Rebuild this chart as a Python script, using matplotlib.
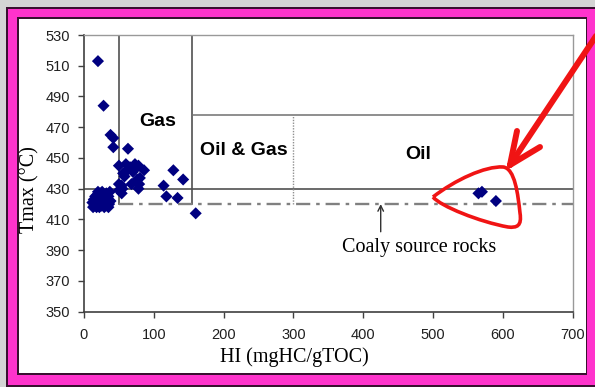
import numpy as np
import matplotlib
matplotlib.use("Agg")
import matplotlib.pyplot as plt
from matplotlib.patches import Rectangle, PathPatch
from matplotlib.path import Path

# HI (mgHC/gTOC) and Tmax (deg C) of the samples
hi = [12, 14, 15, 16, 17, 18, 18, 19, 20, 21, 22, 22, 23, 24, 25, 25, 26, 27, 28, 28,
      29, 30, 31, 32, 33, 34, 35, 36, 37, 38, 20, 26, 16, 30, 13, 35,
      20, 28, 38, 42, 42, 63, 50, 66, 73, 78, 86, 62, 56, 80, 68, 50, 79, 78, 54, 50,
      54, 58, 70, 76, 60, 72, 55,
      114, 128, 142, 118, 134, 160,
      565, 570, 590]
tmax = [421, 423, 419, 425, 421, 418, 423, 426, 420, 422, 424, 418, 427, 421, 419, 425, 423, 420, 426, 422,
        418, 424, 421, 427, 419, 423, 425, 420, 428, 422, 428, 428, 420, 419, 418, 418,
        513, 484, 465, 463, 457, 456, 445, 444, 446, 445, 442, 442, 440, 437, 433, 433, 433, 430, 427, 429,
        432, 438, 441, 436, 446, 443, 430,
        432, 442, 436, 425, 424, 414,
        427, 428, 422]

xticks = [0, 100, 200, 300, 400, 500, 600, 700]
yticks = [350, 370, 390, 410, 430, 450, 470, 490, 510, 530]

# zone boundaries
gas_hi = (50, 155)
gas_top = 530
oil_top = 478
oil_gas_split = 300
mature_t = 430
coaly_t = 420

W, H = 595, 387
sans = "Liberation Sans"
serif = "Liberation Serif"

fig = plt.figure(figsize=(W / 100, H / 100), dpi=100, facecolor="#d4d4d4")


def px_rect(x0, y0, x1, y1, color):
    fig.patches.append(Rectangle((x0 / W, 1 - y1 / H), (x1 - x0) / W, (y1 - y0) / H,
                                 transform=fig.transFigure, facecolor=color,
                                 edgecolor="none", zorder=-5))


def px(x, y):
    return (x / W, 1 - y / H)


# pink frame
px_rect(6, 7, 595, 387, "#3a1030")
px_rect(8, 9, 595, 385, "#ff33cc")
px_rect(17, 17, 587, 375, "#3a1030")
px_rect(19, 19, 586, 373, "white")

ax = fig.add_axes([84 / W, 1 - 311.7 / H, (572.7 - 84) / W, (311.7 - 35) / H])
ax.set_zorder(2)
ax.set_facecolor("white")
ax.set_xlim(0, 700)
ax.set_ylim(350, 530)
ax.set_xticks(xticks)
ax.set_yticks(yticks)
ax.tick_params(direction="out", length=4, width=1, color="#404040", labelsize=10.5,
               labelcolor="#202020")
ax.tick_params(axis="y", pad=6)
ax.tick_params(axis="x", pad=8)
for lab in ax.get_xticklabels() + ax.get_yticklabels():
    lab.set_fontfamily(sans)
for s in ["left", "bottom"]:
    ax.spines[s].set_color("#404040")
    ax.spines[s].set_linewidth(1.2)
for s in ["top", "right"]:
    ax.spines[s].set_color("#999999")
    ax.spines[s].set_linewidth(1)

line_c = "#505050"
# gas box
ax.plot([gas_hi[0], gas_hi[0], gas_hi[1], gas_hi[1]], [coaly_t, gas_top, gas_top, coaly_t],
        color=line_c, lw=1.2, zorder=2)
# maturity line and oil window top
ax.plot([0, 700], [mature_t, mature_t], color=line_c, lw=1.2, zorder=2)
ax.plot([gas_hi[1], 700], [oil_top, oil_top], color="#707070", lw=1.1, zorder=2)
ax.plot([oil_gas_split, oil_gas_split], [coaly_t, oil_top], color="#909090", lw=1,
        ls=(0, (1, 1)), zorder=2)
# coaly source rock threshold
ax.plot([gas_hi[0], 700], [coaly_t, coaly_t], color="#808080", lw=1.7,
        ls=(0, (6, 2.5, 1.5, 2.5)), zorder=2)

ax.scatter(hi, tmax, marker="D", s=38, color="#000080", edgecolors="none", zorder=4)

ax.text(105, 474, "Gas", fontfamily=sans, fontweight="bold", fontsize=14,
        ha="center", va="center")
ax.text(229, 455, "Oil & Gas", fontfamily=sans, fontweight="bold", fontsize=14,
        ha="center", va="center")
ax.text(479, 452, "Oil", fontfamily=sans, fontweight="bold", fontsize=14,
        ha="center", va="center")

ax.annotate("", xy=(425, coaly_t), xytext=(425, 402),
            arrowprops=dict(arrowstyle="->", color="#303030", lw=1, shrinkA=0, shrinkB=0))
ax.text(480, 392, "Coaly source rocks", fontfamily=serif, fontsize=14.5,
        ha="center", va="center")

fig.text(294 / W, 1 - 357 / H, "HI (mgHC/gTOC)", fontfamily=serif, fontsize=14.5,
         ha="center", va="center")
fig.text(30 / W, 1 - 190 / H, "Tmax (\u00b0C)", fontfamily=serif, fontsize=14.5,
         rotation=90, ha="center", va="center")

# red highlight: arrow and loop around the high-HI samples
red = "#f01414"
for seg in [[(610, 15), (510, 165)], [(510, 165), (517, 131)], [(510, 165), (540, 147)]]:
    (x0, y0), (x1, y1) = seg
    fig.add_artist(plt.Line2D([x0 / W, x1 / W], [1 - y0 / H, 1 - y1 / H],
                              transform=fig.transFigure, color=red, lw=4.3,
                              solid_capstyle="round", zorder=10))

verts = [(433, 197),
         (455, 180), (485, 166), (503, 167),
         (515, 168), (518, 195), (520, 213),
         (522, 226), (517, 228), (508, 227),
         (480, 222), (440, 206), (433, 197)]
codes = [Path.MOVETO] + [Path.CURVE4] * 12
loop = Path([px(x, y) for x, y in verts], codes)
fig.add_artist(PathPatch(loop, transform=fig.transFigure, facecolor="none",
                         edgecolor=red, lw=2.6, zorder=10))

fig.savefig("out.png", dpi=100, facecolor=fig.get_facecolor())
